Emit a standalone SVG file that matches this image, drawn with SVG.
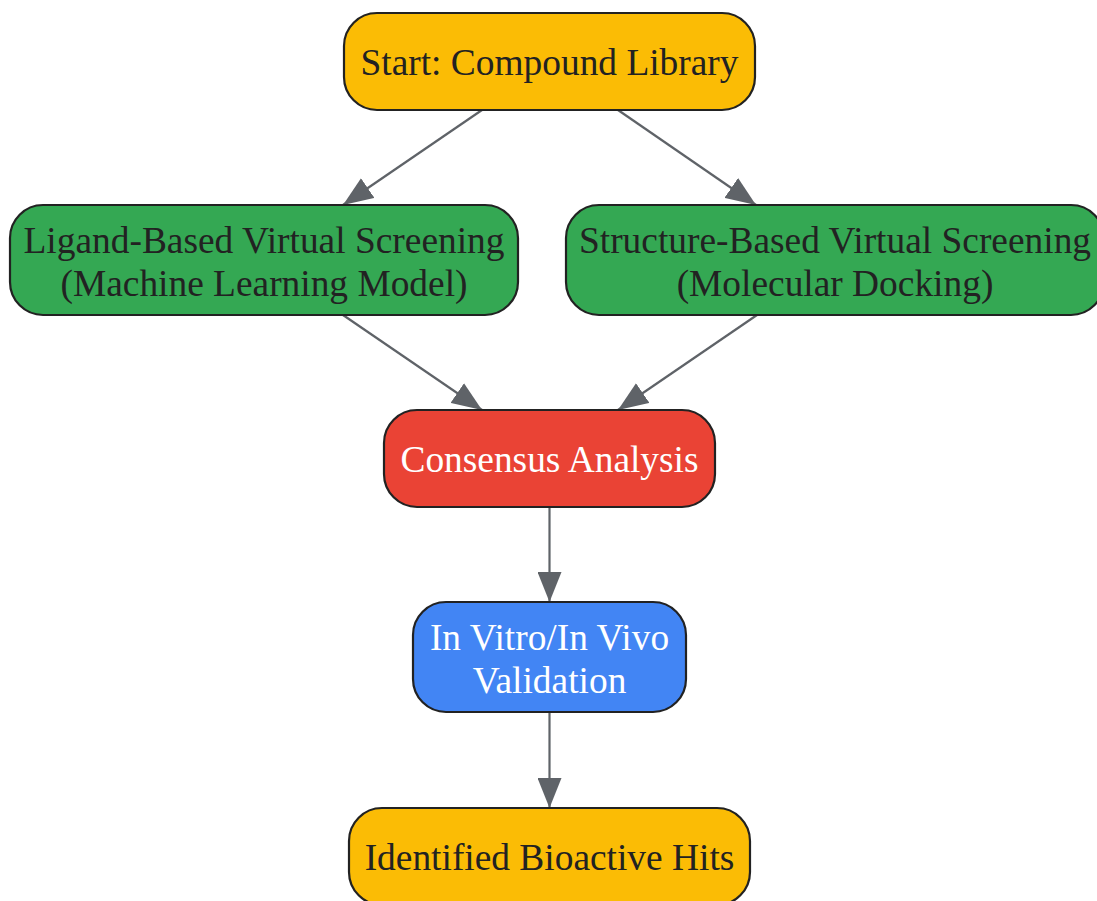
<svg xmlns="http://www.w3.org/2000/svg" width="1097" height="901" viewBox="0 0 1097 901">
<style>
.box{stroke:#222;stroke-width:2.2}
.t{font-family:"Liberation Serif","Times New Roman",serif;font-size:37.4px;text-anchor:middle}
.dark{fill:#222}
.light{fill:#fff}
.edge{stroke:#5f6368;stroke-width:2.2;fill:none;marker-end:url(#ah)}
</style>
<defs>
<marker id="ah" markerUnits="userSpaceOnUse" markerWidth="30" markerHeight="24" refX="30" refY="12" orient="auto">
<path d="M0,0 L30,12 L0,24 z" fill="#5f6368"/>
</marker>
</defs>
<rect width="1097" height="901" fill="#fff"/>
<g id="connectors">
<line class="edge" x1="482" y1="110" x2="343" y2="205"/>
<line class="edge" x1="618" y1="110" x2="756" y2="205"/>
<line class="edge" x1="343" y1="315" x2="482" y2="410"/>
<line class="edge" x1="757" y1="315" x2="618" y2="410"/>
<line class="edge" x1="549.5" y1="507" x2="549.5" y2="602"/>
<line class="edge" x1="549.5" y1="712" x2="549.5" y2="808"/>
</g>
<g id="start">
<rect class="box" x="344" y="13" width="411" height="97" rx="33" fill="#FBBC05"/>
<text class="t dark" x="549.5" y="75">Start: Compound Library</text>
</g>
<g id="ligand">
<rect class="box" x="10" y="205" width="508" height="110" rx="33" fill="#34A853"/>
<text class="t dark" x="264" y="253">Ligand-Based Virtual Screening</text>
<text class="t dark" x="264" y="296">(Machine Learning Model)</text>
</g>
<g id="structure">
<rect class="box" x="566" y="205" width="538" height="110" rx="33" fill="#34A853"/>
<text class="t dark" x="835" y="253">Structure-Based Virtual Screening</text>
<text class="t dark" x="835" y="296">(Molecular Docking)</text>
</g>
<g id="consensus">
<rect class="box" x="384" y="410" width="331" height="97" rx="33" fill="#EA4335"/>
<text class="t light" x="549.5" y="472">Consensus Analysis</text>
</g>
<g id="validation">
<rect class="box" x="413" y="602" width="273" height="110" rx="33" fill="#4285F4"/>
<text class="t light" x="549.5" y="650">In Vitro/In Vivo</text>
<text class="t light" x="549.5" y="693">Validation</text>
</g>
<g id="hits">
<rect class="box" x="349" y="808" width="401" height="97" rx="33" fill="#FBBC05"/>
<text class="t dark" x="549.5" y="870">Identified Bioactive Hits</text>
</g>
</svg>
